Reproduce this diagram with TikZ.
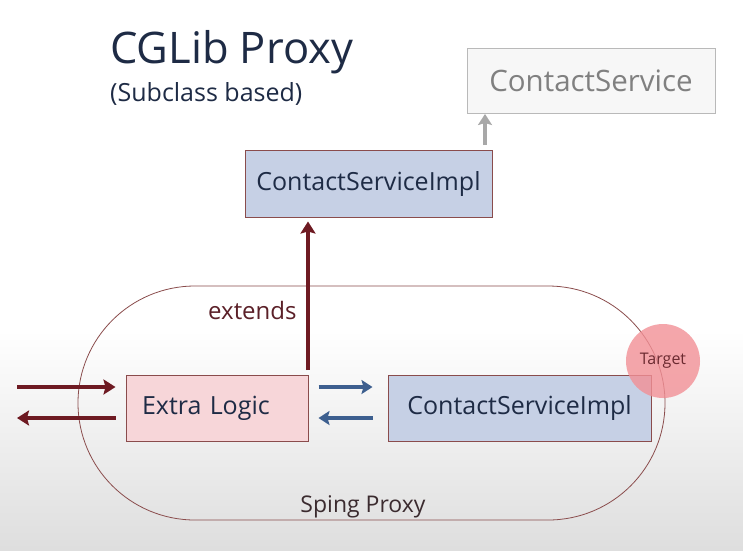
\documentclass[tikz,border=0pt]{standalone}
\usepackage{fontspec}
\setmainfont{Open Sans}
\usetikzlibrary{arrows.meta,positioning}
\definecolor{navy}{HTML}{1E2B45}
\definecolor{darkred}{HTML}{6E1A22}
\definecolor{arrowblue}{HTML}{3D5F8F}
\definecolor{boxborder}{HTML}{8A4C4C}
\definecolor{bluefill}{HTML}{C6D0E5}
\definecolor{pinkfill}{HTML}{F7D6D9}
\definecolor{extcol}{HTML}{5B2028}
\definecolor{proxycol}{HTML}{3B2B2F}
\definecolor{targetfill}{HTML}{F29096}
\definecolor{targettext}{HTML}{6B2A30}
\definecolor{ifacegray}{HTML}{A8A8A8}
\tikzset{
  classbox/.style={draw=boxborder, line width=1pt, minimum height=66pt, inner sep=0pt, text=navy, font=\fontsize{25}{29}\selectfont},
  redarrow/.style={draw=darkred, line width=3.5pt, -{Stealth[length=12pt,width=15pt,inset=2pt]}},
  bluearrow/.style={draw=arrowblue, line width=3.5pt, -{Stealth[length=11pt,width=14pt,inset=2pt]}},
  grayarrow/.style={draw=ifacegray, line width=3.5pt, -{Stealth[length=11pt,width=14pt,inset=2pt]}},
}
\begin{document}
\begin{tikzpicture}[x=1pt,y=-1pt]
\useasboundingbox (0,0) rectangle (743,550);
\fill[white] (0,0) rectangle (743,550);
\shade[top color=white, bottom color=black!13] (0,330) rectangle (743,550);
% title
\node[anchor=base west, inner sep=0pt, text=navy, font=\fontsize{43.5}{49}\selectfont] (title) at (110,63) {CGLib Proxy};
\node[anchor=base west, inner sep=0pt, text=navy, font=\fontsize{25}{29}\selectfont] (subtitle) at (110,101) {(Subclass based)};
% interface
\node[draw=ifacegray!80, fill=black!3, line width=1pt, minimum width=248pt, minimum height=65pt, inner sep=0pt, text=black!50, font=\fontsize{29.5}{34}\selectfont] (cs) at (591,81) {ContactService};
% top impl
\node[classbox, fill=bluefill, minimum width=247pt, minimum height=67pt] (csi) at (368.5,183.5) {ContactServiceImpl};
\coordinate (ifacestart) at (485,145);
\draw[grayarrow] (ifacestart) -- (ifacestart |- cs.south);
% proxy stadium
\draw[boxborder, line width=0.8pt, rounded corners=117pt] (78,286) rectangle (665,520);
\node[anchor=base, text=proxycol, font=\fontsize{23}{27}\selectfont, inner sep=0pt] (proxy) at (363,512) {Sping Proxy};
% inner boxes
\node[classbox, fill=pinkfill, text width=150pt, align=left, inner xsep=16pt, minimum width=180pt] (el) at (217,408) {Extra Logic};
\node[classbox, fill=bluefill, minimum width=263pt] (csi2) at (519.5,408) {ContactServiceImpl};
% target marker
\node[circle, fill=targetfill, fill opacity=0.8, text opacity=1, minimum size=74pt, inner sep=0pt, text=targettext, font=\fontsize{16}{18}\selectfont] (target) at (663,361) {Target};
% extends
\coordinate (extstart) at (308,370);
\draw[redarrow, shorten >=4pt] (extstart) -- (extstart |- csi.south);
\node[anchor=base west, inner sep=0pt, text=extcol, font=\fontsize{24}{28}\selectfont] (ext) at (208,319) {extends};
% client arrows
\coordinate (cin) at (17,387);
\coordinate (cout) at (17,418);
\draw[redarrow] (cin) -- ([xshift=-10pt]el.west |- cin);
\draw[redarrow] ([xshift=-10pt]el.west |- cout) -- (cout);
% delegation arrows
\draw[bluearrow] ([xshift=10pt,yshift=21pt]el.east) -- ([xshift=-15pt,yshift=21pt]csi2.west);
\draw[bluearrow] ([xshift=-15pt,yshift=-10pt]csi2.west) -- ([xshift=10pt,yshift=-10pt]el.east);
\end{tikzpicture}
\end{document}
